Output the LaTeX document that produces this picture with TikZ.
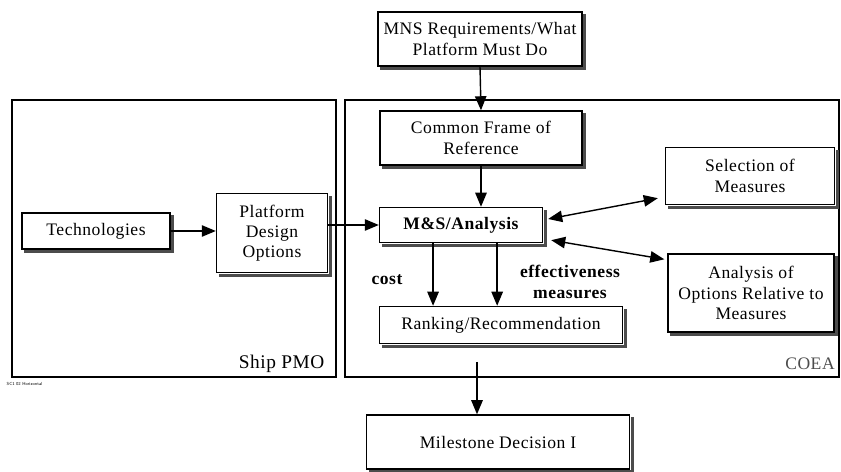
\documentclass[tikz,border=0pt]{standalone}
\usepackage{fontspec}
\setmainfont{Liberation Serif}[LetterSpace=3]
\usepackage{tikz}
\usetikzlibrary{arrows.meta,calc}

\begin{document}
\begin{tikzpicture}[x=0.02cm, y=-0.02cm, line width=0.8pt,
    >={Triangle[length=8pt,width=6.5pt]},
    font=\fontsize{10}{11.5}\selectfont,
    box/.style={draw, fill=white, align=center, inner sep=1pt},
    shade line/.style={line width=1.6pt, draw=black!70},
    lbl/.style={font=\fontsize{10}{11.5}\selectfont\bfseries, align=center}]
    \useasboundingbox (0, 0) rectangle (841, 472);

    % 两个外框
    \draw[line width=1pt] (12, 100) rectangle (336, 377);
    \draw[line width=1pt] (345, 100) rectangle (839, 377);
    \node[anchor=east, font=\fontsize{11}{12}\selectfont] (pmo) at (331, 364) {Ship PMO};
    \node[text=black!70, font=\fontsize{10}{12}\selectfont] (coea) at (810, 364) {COEA};
    \node[anchor=west, inner sep=0pt, font=\fontsize{2.5}{3}\sffamily] (tag) at (6, 384) {SC1 02 Horizontal};

    % 方框
    \node[box, minimum width=4.08cm, minimum height=1.08cm] (mns) at (480, 39) {MNS Requirements/What\\Platform Must Do};
    \node[box, minimum width=4.04cm, minimum height=1.08cm] (com) at (481, 138) {Common Frame of\\Reference};
    \node[box, minimum width=2.96cm, minimum height=0.72cm] (tech) at (96, 231) {Technologies};
    \node[box, minimum width=2.22cm, minimum height=1.58cm] (plat) at (272, 233) {Platform\\Design\\Options};
    \node[box, minimum width=3.26cm, minimum height=0.70cm, font=\fontsize{10}{11.5}\selectfont\bfseries] (ms) at (461, 225) {M\&S/Analysis};
    \node[box, minimum width=3.38cm, minimum height=1.14cm] (sel) at (750, 176) {Selection of\\Measures};
    \node[box, minimum width=3.32cm, minimum height=1.56cm] (ana) at (751, 293) {Analysis of\\Options Relative to\\Measures};
    \node[box, minimum width=4.86cm, minimum height=0.74cm] (rank) at (501, 325) {Ranking/Recommendation};
    \node[box, minimum width=5.26cm, minimum height=1.08cm] (mile) at (498, 442) {Milestone Decision I};

    % 方框阴影（下边和右边）
    \foreach \n in {mns, com, tech, plat, ms, sel, ana, rank, mile}
        \draw[shade line] ($(\n.south west)+(3,2)$) -- ($(\n.south east)+(2,2)$) -- ($(\n.north east)+(2,3)$);

    % 标注
    \node[lbl] (cost) at (387, 280) {cost};
    \node[lbl] (eff) at (570, 282) {effectiveness\\measures};

    % 箭头
    \draw[->] (mns.south) -- (com.north);
    \draw[->] (com.south) -- (com.south |- ms.north);
    \draw[->] (tech.east) -- (tech.east -| plat.west);
    \draw[->] (ms.west -| plat.east) -- (ms.west);
    \draw[<->] ($(ms.east)+(5,-6)$) -- ($(sel.south west)+(-7,-7)$);
    \draw[<->] ($(ms.south east)+(8,-3)$) -- ($(ana.north west)+(-3,6)$);
    \coordinate (c1) at ($(ms.south west)!0.33!(ms.south east)$);
    \coordinate (c2) at ($(ms.south west)!0.72!(ms.south east)$);
    \draw[->] (c1) -- (c1 |- rank.north);
    \draw[->] (c2) -- (c2 |- rank.north);
    \coordinate (cd) at (477, 362);
    \draw[->] (cd) -- (cd |- mile.north);
\end{tikzpicture}
\end{document}
